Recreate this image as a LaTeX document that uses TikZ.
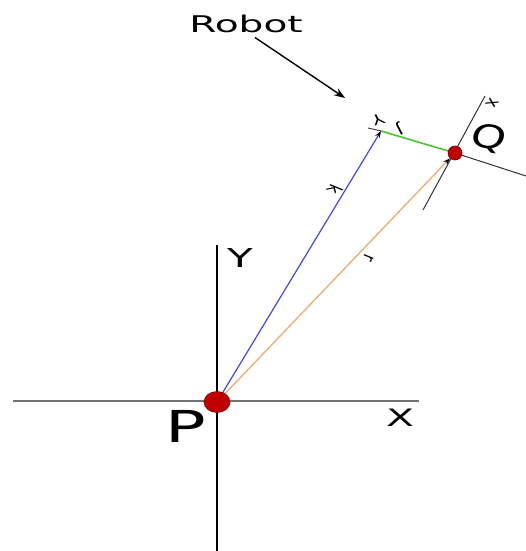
\documentclass[tikz,border=0pt]{standalone}
\usepackage{fontspec}
\setmainfont{DejaVu Sans}
\usetikzlibrary{arrows.meta,shapes.geometric}
\pgfdeclarelayer{bg}
\pgfsetlayers{bg,main}
\definecolor{dotred}{RGB}{192,0,0}
\definecolor{dotedge}{RGB}{120,0,0}
\definecolor{kblue}{RGB}{70,70,225}
\definecolor{rorange}{RGB}{240,170,110}
\definecolor{jgreen}{RGB}{70,200,50}
\begin{document}
\begin{tikzpicture}[x=1pt,y=-1pt,
  lbl/.style={inner sep=0pt, anchor=base, xscale=1.7},
  small/.style={inner sep=0pt, font=\fontsize{14}{14}\selectfont, xscale=1.4},
  reddot/.style={fill=dotred, draw=dotedge, line width=0.6pt},
  tip/.style={-{Stealth[length=7pt,width=5pt,black]}},
  axis/.style={line width=1.2pt}]
\useasboundingbox (0,0) rectangle (526,551);
% points
\node[reddot, ellipse, minimum width=26pt, minimum height=21pt, inner sep=0pt] (P) at (217,402) {};
\node[reddot, circle, minimum size=14pt, inner sep=0pt] (Q) at (455,153) {};
\coordinate (kend) at (381,131);
\coordinate (tickL) at (368,128);
\coordinate (qa) at (423,210);
\coordinate (qb) at (485,96);
\coordinate (qc) at (526,176);
\coordinate (xl) at (13,401);
\coordinate (xr) at (419,401);
\coordinate (yt) at (217,245);
\coordinate (yb) at (217,551);
\coordinate (rtip) at (345,98);
% labels
\node[lbl, font=\fontsize{23}{23}\selectfont] (robot) at (246,33) {Robot};
\node[lbl, font=\fontsize{44}{44}\selectfont, xscale=0.9] (Plbl) at (186,442) {P};
\node[lbl, font=\fontsize{24}{24}\selectfont] (Xlbl) at (400,426) {X};
\node[lbl, font=\fontsize{26}{26}\selectfont, xscale=0.95] (Ylbl) at (240,267) {Y};
\node[inner sep=0pt, font=\fontsize{32}{32}\selectfont, xscale=1.4, rotate=-12] (Qlbl) at (489,139) {Q};
\node[small, rotate=-120] (klbl) at (335,190) {k};
\node[small, rotate=-120] (rlbl) at (368,258) {r};
\node[small, rotate=-160] (jlbl) at (399,129) {J};
\node[small, rotate=-160] (ylbl2) at (378,120) {Y};
\node[small, rotate=-120] (xlbl2) at (492,103) {x};
\begin{pgfonlayer}{bg}
\draw[line width=1.1pt, black!55] (xl) -- (xr);
\draw[axis] (yt) -- (yb);
\draw[kblue, line width=1.2pt, tip] (P.center) -- (kend);
\draw[rorange, line width=1.3pt, tip] (P.center) -- (Q);
\draw[jgreen, line width=1.6pt] (kend) -- (Q.center);
\draw[black!80, line width=0.9pt] (tickL) -- (kend);
\draw[black!80, line width=1pt] (qa) -- (qb);
\draw[black!80, line width=1pt] (Q.center) -- (qc);
\draw[line width=1.4pt, -{Stealth[length=11pt,width=8pt]}] ([shift={(9,4)}]robot.south) -- (rtip);
\end{pgfonlayer}
\end{tikzpicture}
\end{document}
